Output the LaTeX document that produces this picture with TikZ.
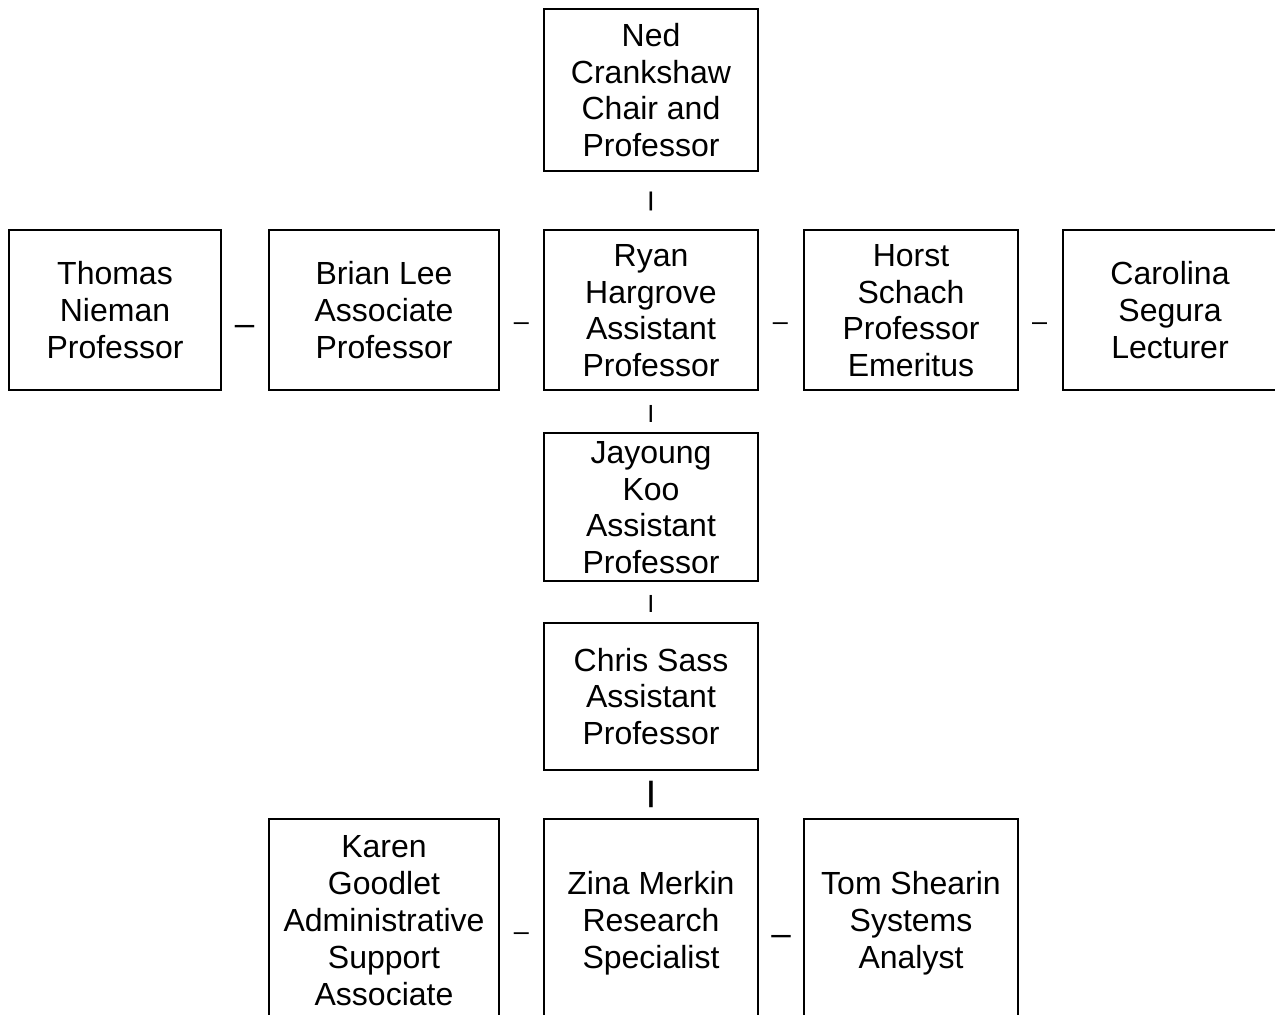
\documentclass[tikz,border=0pt]{standalone}
\usepackage{fontspec}
\setmainfont{Liberation Sans}
\newcommand\sline{\rule[-7pt]{0pt}{36.8pt}}
\begin{document}
\begin{tikzpicture}[x=1pt,y=-1pt,
  box/.style={draw, line width=2pt, inner sep=0pt, align=center,
    font=\fontsize{32}{36.8}\selectfont},
  wbox/.style={box, minimum width=214pt},
  nbox/.style={box, minimum width=230pt},
  vbar/.style={inner sep=0pt, font=\fontsize{#1}{#1}\selectfont\bfseries},
  hdash/.style={inner sep=0pt, anchor=base, font=\fontsize{#1}{#1}\selectfont}
 ]
\useasboundingbox (0,0) rectangle (1275,1015);
\clip (0,0) rectangle (1275,1015);
% top
\node[wbox, minimum height=162pt] (ned) at (651,90)
  {\sline Ned\\\sline Crankshaw\\\sline Chair and\\\sline Professor};
\node[vbar=20] (b1) at (651,201) {|};
% row 2
\node[box, minimum width=212pt, minimum height=160pt] (thomas) at (115,310)
  {\sline Thomas\\\sline Nieman\\\sline Professor};
\node[hdash=35] (d1) at (244.5,335.8) {–};
\node[nbox, minimum height=160pt] (brian) at (384,310)
  {\sline Brian Lee\\\sline Associate\\\sline Professor};
\node[hdash=27] (d2) at (521.5,330.8) {–};
\node[wbox, minimum height=160pt] (ryan) at (651,310)
  {\sline Ryan\\\sline Hargrove\\\sline Assistant\\\sline Professor};
\node[hdash=27] (d3) at (780.5,330.8) {–};
\node[wbox, minimum height=160pt] (horst) at (911,310)
  {\sline Horst\\\sline Schach\\\sline Professor\\\sline Emeritus};
\node[hdash=27] (d4) at (1039.5,330.8) {–};
\node[wbox, minimum height=160pt] (carolina) at (1170,310)
  {\sline Carolina\\\sline Segura\\\sline Lecturer};
% column
\node[vbar=18] (b2) at (651,413.5) {|};
\node[wbox, minimum height=148pt] (jayoung) at (651,507)
  {\sline Jayoung\\\sline Koo\\\sline Assistant\\\sline Professor};
\node[vbar=18] (b3) at (651,603.5) {|};
\node[wbox, minimum height=147pt] (chris) at (651,696.5)
  {\sline Chris Sass\\\sline Assistant\\\sline Professor};
\node[vbar=28] (b4) at (651,794) {|};
% bottom row
\node[nbox, minimum height=202pt] (karen) at (384,920)
  {\sline Karen\\\sline Goodlet\\\sline Administrative\\\sline Support\\\sline Associate};
\node[hdash=27] (d5) at (521.5,940.8) {–};
\node[wbox, minimum height=202pt] (zina) at (651,920)
  {\sline Zina Merkin\\\sline Research\\\sline Specialist};
\node[hdash=35] (d6) at (781,945.8) {–};
\node[wbox, minimum height=202pt] (tom) at (911,920)
  {\sline Tom Shearin\\\sline Systems\\\sline Analyst};
\end{tikzpicture}
\end{document}
